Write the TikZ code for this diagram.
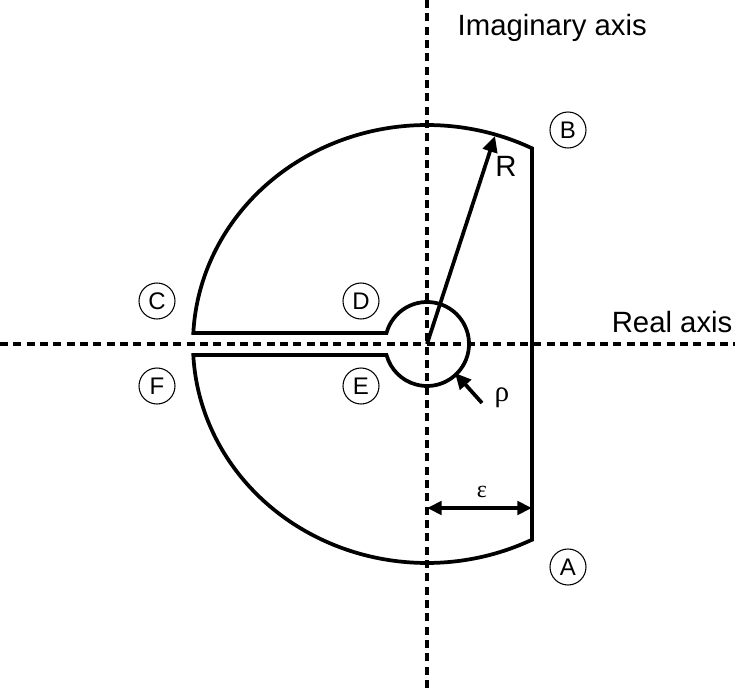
\documentclass[tikz,border=0pt]{standalone}
\usepackage{fontspec}
\setmainfont{Liberation Sans}
\newfontfamily\greekfont{Liberation Serif}
\usetikzlibrary{arrows.meta}
\begin{document}
\begin{tikzpicture}[x=0.75pt, y=0.75pt,
  contour/.style={line width=2.8pt, line join=miter},
  axis/.style={line width=2.6pt, dash pattern=on 6pt off 4pt},
  pointer/.style={line width=2.8pt, -{Triangle[length=12pt,width=11pt]}},
  span/.style={line width=2.8pt, {Triangle[length=11pt,width=10pt]}-{Triangle[length=11pt,width=10pt]}},
  marker/.style={circle, draw, line width=0.8pt, minimum size=27pt, inner sep=0pt, font=\fontsize{18}{20}\selectfont},
  every node/.style={font=\fontsize{22}{26}\selectfont}]
\useasboundingbox (-427,-344) rectangle (308,344);
% axes
\coordinate (o) at (0,0);
\coordinate (itop) at (0,344); \coordinate (ibot) at (0,-344);
\coordinate (rleft) at (-427,0); \coordinate (rright) at (308,0);
\draw[axis] (ibot) -- (itop);
\draw[axis] (rleft) -- (rright);
\node[anchor=west] (imag) at (26,316) {Imaginary axis};
\node[anchor=east, inner sep=1pt] (real) at (307,22) {Real axis};
% keyhole contour
\draw[contour] (105,-195.7) -- (105,195.7) arc[start angle=63.34, end angle=177.12, x radius=234, y radius=219]
  -- (-40.5,11) arc[start angle=164.82, end angle=-164.82, radius=42]
  -- (-233.7,-11) arc[start angle=182.88, end angle=296.66, x radius=234, y radius=219] -- cycle;
% radii and width
\coordinate (rtip) at (68,208);
\draw[pointer] (o) -- (rtip);
\node (rlab) at (79,178) {R};
\coordinate (rhotail) at (55,-59); \coordinate (rhotip) at (28,-29);
\draw[pointer] (rhotail) -- (rhotip);
\node[font=\greekfont\fontsize{22}{24}\selectfont] (rholab) at (75,-54) {ρ};
\coordinate (epsl) at (0,-164); \coordinate (epsr) at (105,-164);
\draw[span] (epsl) -- (epsr);
\node[font=\greekfont\fontsize{18}{20}\selectfont] (epslab) at (55,-148) {ε};
% points on the contour
\foreach \n/\x/\y in {B/141/214, A/141/-223, C/-270/43, D/-66/43, F/-270/-42, E/-66/-42}
  \node[marker] (\n) at (\x,\y) {\n};
\end{tikzpicture}
\end{document}
